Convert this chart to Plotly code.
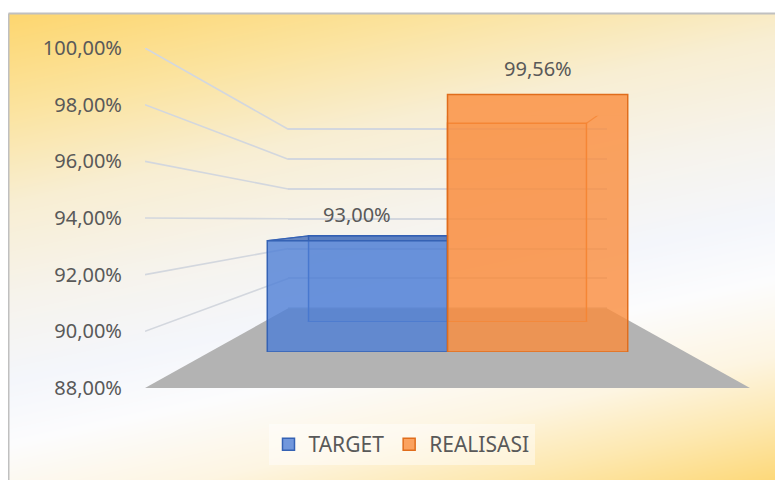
import plotly.graph_objects as go

# ---------------- data ----------------
CATEGORIES = ["Capaian"]
SERIES_NAMES = ["TARGET", "REALISASI"]
TARGET = [93.00]
REALISASI = [99.56]
Y_TICK_VALUES = [88, 90, 92, 94, 96, 98, 100]
Y_TICK_LABELS = ["88,00%", "90,00%", "92,00%", "94,00%", "96,00%", "98,00%", "100,00%"]
Y_MIN, Y_MAX = 88, 100

SERIES = [TARGET, REALISASI]

# ---------------- style ----------------
PAGE_W, PAGE_H = 783, 480
OFFSET = 8                      # default page margin around the plot div
FIG_W, FIG_H = PAGE_W - OFFSET, PAGE_H - OFFSET
FACE_FILL = ["rgba(78,126,214,0.80)", "rgba(250,140,60,0.80)"]
BACK_FILL = ["rgba(60,100,190,0.18)", "rgba(235,115,40,0.18)"]
TOP_FILL = ["rgba(53,98,180,0.75)", "rgba(224,109,28,0.55)"]
EDGE = ["#3562b4", "#e06d1c"]
TEXT = "#595959"
GRID = "#d3d7de"
FLOOR = "#b3b3b3"
FONT = "Noto Sans"
FS = 20
LEGEND_FS = 21

# perspective frame (page pixels): front plane, vanishing point, depth scales
FRONT_L, FRONT_R = 145, 750
FRONT_TOP, FRONT_BOTTOM = 48, 388
VX, VY = 447.5, 219.7
S_FRONT, S_WALL, S_BAR_BACK, S_BAR_FRONT = 1.0, 0.5265, 0.606, 0.786
BAR_GAP = 0.242
X_RANGE = [-0.5, len(CATEGORIES) - 0.5]
WALL_PAD = 0.5                  # keeps edge gridlines inside the wall axis range

# background gradient (t: 0 top-left -> 1 bottom-right)
BG_CORNERS = [[0.736, 1.0], [0.0, 0.264]]  # rows: bottom, top
BG_SCALE = [
    [0.0, "#fdd66f"], [0.15, "#fbe39e"], [0.30, "#f8eed3"], [0.45, "#f6f3ec"],
    [0.58, "#f4f6fb"], [0.68, "#fcfcfd"], [0.80, "#fdf5e2"], [0.90, "#fde8b0"],
    [1.0, "#fdd878"],
]


def px_x(px):
    return (px - OFFSET) / FIG_W


def px_y(py):
    return 1 - (py - OFFSET) / FIG_H


def value_px(v):
    return FRONT_BOTTOM - (v - Y_MIN) / (Y_MAX - Y_MIN) * (FRONT_BOTTOM - FRONT_TOP)


def layer_domain(s, y_lo, y_hi):
    x0 = VX + (FRONT_L - VX) * s
    x1 = VX + (FRONT_R - VX) * s
    yt = VY + (value_px(y_hi) - VY) * s
    yb = VY + (value_px(y_lo) - VY) * s
    return [px_x(x0), px_x(x1)], [px_y(yb), px_y(yt)]


VXD = X_RANGE[0] + (VX - FRONT_L) / (FRONT_R - FRONT_L) * (X_RANGE[1] - X_RANGE[0])
VYD = Y_MIN + (FRONT_BOTTOM - VY) / (FRONT_BOTTOM - FRONT_TOP) * (Y_MAX - Y_MIN)


def proj(x, y, s_point, s_frame):
    k = s_point / s_frame
    return VXD + (x - VXD) * k, VYD + (y - VYD) * k


def hidden(**kw):
    d = dict(showgrid=False, zeroline=False, showline=False, showticklabels=False,
             ticks="", fixedrange=True, automargin=False)
    d.update(kw)
    return d


LAYERS = {"wall": (2, S_WALL), "front": (3, S_FRONT), "back": (4, S_BAR_BACK), "face": (5, S_BAR_FRONT)}

fig = go.Figure()

# background
fig.add_trace(go.Heatmap(z=BG_CORNERS, x=[0, 1], y=[0, 1], zsmooth="best",
                         colorscale=BG_SCALE, zmin=0, zmax=1, showscale=False,
                         hoverinfo="skip", xaxis="x", yaxis="y"))

# back wall (gridlines only)
fig.add_trace(go.Scatter(x=[], y=[], xaxis="x2", yaxis="y2", showlegend=False))

# floor + side-wall gridlines in front frame
fl = [(X_RANGE[0], Y_MIN), (X_RANGE[1], Y_MIN),
      proj(X_RANGE[1], Y_MIN, S_WALL, S_FRONT), proj(X_RANGE[0], Y_MIN, S_WALL, S_FRONT)]
fig.add_trace(go.Scatter(x=[p[0] for p in fl] + [fl[0][0]], y=[p[1] for p in fl] + [fl[0][1]],
                         fill="toself", fillcolor=FLOOR, mode="lines", line=dict(width=0, color=FLOOR),
                         xaxis="x3", yaxis="y3", showlegend=False, hoverinfo="skip"))
sx, sy = [], []
for v in Y_TICK_VALUES[1:]:
    bx, by = proj(X_RANGE[0], v, S_WALL, S_FRONT)
    sx += [X_RANGE[0], bx, None]
    sy += [v, by, None]
fig.add_trace(go.Scatter(x=sx, y=sy, mode="lines", line=dict(color=GRID, width=1.6),
                         xaxis="x3", yaxis="y3", showlegend=False, hoverinfo="skip"))

# bars
n = len(SERIES)
bw = (1 - BAR_GAP) / n
positions = list(range(len(CATEGORIES)))
for i, (name, vals) in enumerate(zip(SERIES_NAMES, SERIES)):
    off = -(1 - BAR_GAP) / 2 + i * bw
    for layer, fill, show in (("back", BACK_FILL[i], False), ("face", FACE_FILL[i], True)):
        idx = LAYERS[layer][0]
        fig.add_trace(go.Bar(
            x=positions, y=[v - Y_MIN for v in vals], base=Y_MIN, width=bw, offset=off,
            name=name, marker=dict(color=fill, line=dict(color=EDGE[i], width=1.5)),
            xaxis=f"x{idx}", yaxis=f"y{idx}", showlegend=show, hoverinfo="skip"))
    # connecting edges and visible top face in back-face frame
    ex, ey = [], []
    for j, v in zip(positions, vals):
        x0, x1 = j + off, j + off + bw
        for cx, cy in ((x0, Y_MIN), (x0, v), (x1, Y_MIN), (x1, v)):
            fx, fy = proj(cx, cy, S_BAR_FRONT, S_BAR_BACK)
            ex += [cx, fx, None]
            ey += [cy, fy, None]
        if v < VYD:
            ftl = proj(x0, v, S_BAR_FRONT, S_BAR_BACK)
            ftr = proj(x1, v, S_BAR_FRONT, S_BAR_BACK)
            fig.add_trace(go.Scatter(x=[x0, x1, ftr[0], ftl[0], x0], y=[v, v, ftr[1], ftl[1], v],
                                     fill="toself", fillcolor=TOP_FILL[i], mode="lines",
                                     line=dict(width=1, color=EDGE[i]),
                                     xaxis="x4", yaxis="y4", showlegend=False, hoverinfo="skip"))
    fig.add_trace(go.Scatter(x=ex, y=ey, mode="lines", line=dict(color=EDGE[i], width=1.2),
                             opacity=0.8, xaxis="x4", yaxis="y4", showlegend=False, hoverinfo="skip"))

# data labels
annotations = []
for i, vals in enumerate(SERIES):
    off = -(1 - BAR_GAP) / 2 + i * bw
    for j, v in zip(positions, vals):
        annotations.append(dict(
            x=j + off + bw / 2, y=v, xref="x5", yref="y5", yshift=26,
            text=f"{v:.2f}".replace(".", ",") + "%", showarrow=False,
            font=dict(family=FONT, size=FS, color=TEXT)))

BORDER_X, BORDER_Y = 8.5, 13.5
layout = dict(
    width=FIG_W, height=FIG_H, autosize=False,
    margin=dict(l=0, r=0, t=0, b=0, pad=0, autoexpand=False),
    paper_bgcolor="white", plot_bgcolor="rgba(0,0,0,0)",
    barmode="overlay", separators=",.",
    font=dict(family=FONT, color=TEXT),
    annotations=annotations,
    xaxis=hidden(domain=[px_x(9), 1], range=[0, 1]),
    yaxis=hidden(domain=[0, px_y(14)], range=[0, 1]),
    legend=dict(orientation="h", x=px_x(401.5), xanchor="center", y=px_y(424), yanchor="top",
                bgcolor="rgba(255,255,255,0.45)", font=dict(family=FONT, size=LEGEND_FS, color=TEXT),
                traceorder="normal"),
    shapes=[
        dict(type="line", xref="paper", yref="paper", x0=px_x(BORDER_X), y0=0, x1=px_x(BORDER_X),
             y1=px_y(BORDER_Y), line=dict(color="#c0c0c0", width=2), layer="above"),
        dict(type="line", xref="paper", yref="paper", x0=px_x(BORDER_X), y0=px_y(BORDER_Y), x1=1,
             y1=px_y(BORDER_Y), line=dict(color="#c0c0c0", width=2), layer="above"),
    ],
)
for key, (idx, s) in LAYERS.items():
    lo, hi = (Y_MIN - WALL_PAD, Y_MAX + WALL_PAD) if key == "wall" else (Y_MIN, Y_MAX)
    dx, dy = layer_domain(s, lo, hi)
    layout[f"xaxis{idx}"] = hidden(domain=dx, range=X_RANGE, type="linear", anchor=f"y{idx}")
    layout[f"yaxis{idx}"] = hidden(domain=dy, range=[lo, hi], anchor=f"x{idx}")

layout["yaxis2"].update(showgrid=True, gridcolor=GRID, gridwidth=1.6, tickvals=Y_TICK_VALUES)
layout["yaxis3"].update(showticklabels=True, tickvals=Y_TICK_VALUES, ticktext=Y_TICK_LABELS,
                        tickfont=dict(family=FONT, size=FS, color=TEXT), ticklabelstandoff=22)

fig.update_layout(**layout)
fig.write_html("out.html")
